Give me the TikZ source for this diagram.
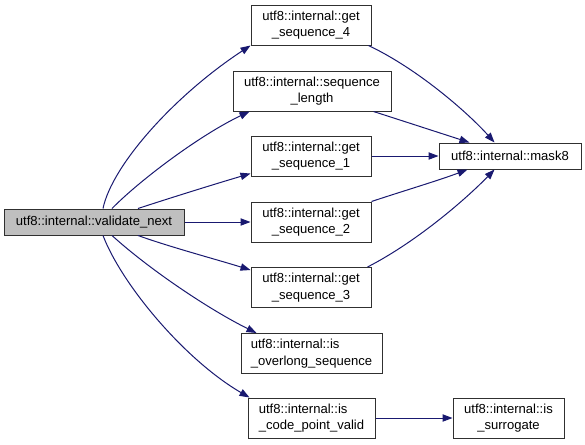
\documentclass[tikz,border=0pt]{standalone}
\usepackage{fontspec}
\setmainfont{Liberation Sans}
\usetikzlibrary{arrows.meta,calc}
\definecolor{edgec}{HTML}{191970}
\definecolor{grayfill}{HTML}{BFBFBF}
\definecolor{boxline}{HTML}{303030}
\begin{document}
\begin{tikzpicture}[x=0.75pt,y=-0.75pt,
  fn/.style={draw=boxline, line width=0.75pt, inner sep=0pt, font=\fontsize{9.8}{12.5}\selectfont, minimum height=40*0.75pt},
  bw/.style={minimum width=#1*0.75pt},
  e/.style={draw=edgec, line width=0.75pt, -{Triangle[length=7.5pt,width=5.5pt]}}]
\useasboundingbox (0,0) rectangle (585,444);
\node[fn,bw=180,minimum height=26*0.75pt,fill=grayfill] (vn) at (94,222) {utf8::internal::validate\_next};
\node[fn,bw=120,align=center] (gs4) at (311,25) {utf8::internal::get\\\_sequence\_4};
\node[fn,bw=158,align=center] (sl) at (312,91) {utf8::internal::sequence\\\_length};
\node[fn,bw=120,align=center] (gs1) at (311,156) {utf8::internal::get\\\_sequence\_1};
\node[fn,bw=120,align=center] (gs2) at (311,222) {utf8::internal::get\\\_sequence\_2};
\node[fn,bw=120,align=center] (gs3) at (311,287.5) {utf8::internal::get\\\_sequence\_3};
\node[fn,bw=141,align=left] (io) at (311.5,353.5) {utf8::internal::is\\\_overlong\_sequence};
\node[fn,bw=127,align=left] (cpv) at (311.5,418) {utf8::internal::is\\\_code\_point\_valid};
\node[fn,bw=111,align=center] (sur) at (508.5,418) {utf8::internal::is\\\_surrogate};
\node[fn,bw=142,minimum height=26*0.75pt] (m8) at (510,156) {utf8::internal::mask8};

\draw[e] ($(vn.north)+(9,0)$) .. controls (112,165) and (175,95) .. (gs4.south west);
\draw[e] ($(vn.north)+(18,0)$) .. controls (140,180) and (200,135) .. ($(sl.south west)+(17,0)$);
\draw[e] ($(vn.north)+(44,0)$) .. controls (170,198) and (215,184) .. ($(gs1.south west)+(0,-3)$);
\draw[e] (vn.east) -- (gs2.west);
\draw[e] ($(vn.south)+(44,0)$) .. controls (170,247) and (215,259) .. ($(gs3.north west)+(0,3)$);
\draw[e] ($(vn.south)+(18,0)$) .. controls (150,270) and (210,310) .. ($(io.north west)+(16,0)$);
\draw[e] ($(vn.south)+(9,0)$) .. controls (122,285) and (185,360) .. ($(cpv.north west)+(2,0)$);

\draw[e] ($(gs4.south east)+(-3,0)$) .. controls (420,70) and (470,115) .. ($(m8.north west)+(56,0)$);
\draw[e] ($(sl.south east)+(-18,0)$) .. controls (400,120) and (440,133) .. ($(m8.north west)+(31,0)$);
\draw[e] (gs1.east) -- (m8.west);
\draw[e] (gs2.north east) .. controls (400,192) and (440,180) .. ($(m8.south west)+(29,0)$);
\draw[e] ($(gs3.north east)+(-4,0)$) .. controls (420,240) and (470,195) .. ($(m8.south west)+(56,0)$);
\draw[e] (cpv.east) -- (sur.west);
\end{tikzpicture}
\end{document}
